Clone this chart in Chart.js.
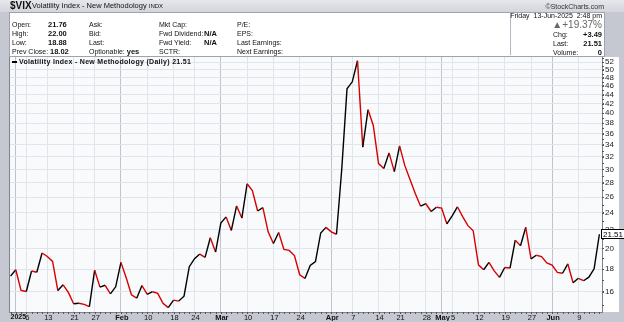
<!DOCTYPE html>
<html>
<head>
<meta charset="UTF-8">
<title>$VIX Volatility Index - New Methodology</title>
<script src="https://cdn.jsdelivr.net/npm/chart.js@4/dist/chart.umd.min.js"></script>
<style>
    body {
        margin: 0;
        width: 624px;
        height: 322px;
        overflow: hidden;
        position: relative;
        background: #c5c8d1;
        font-family: Arial, "Liberation Sans", sans-serif;
        color: #111;
    }
    #chartBox {
        position: absolute;
        left: 0;
        top: 0;
        width: 624px;
        height: 322px;
    }
    .t {
        position: absolute;
        white-space: nowrap;
        font-size: 7px;
        line-height: 8px;
    }
    .b { font-weight: bold; font-size: 7.5px; }
    .r { text-align: right; }
    #topbar {
        position: absolute;
        left: 0; top: 0;
        width: 624px; height: 12px;
        background: linear-gradient(#e6e7ec, #d3d5dc);
    }
    #info {
        position: absolute;
        left: 9px; top: 12px;
        width: 594px; height: 43px;
        background: #fff;
        border: 1px solid #9ea3ad;
    }
    #quote {
        position: absolute;
        left: 510px; top: 12px;
        width: 93px; height: 43px;
        border-left: 1px solid #b4b8c0;
    }
</style>
</head>
<body>
<div id="chartBox"><canvas id="vixChart"></canvas></div>

<!-- ヘッダー -->
<div id="topbar"></div>
<div class="t" style="left:10px;top:1px;font-size:10px;line-height:10px;font-weight:bold;">$VIX</div>
<div class="t" style="left:32px;top:2px;font-size:7.5px;">Volatility Index - New Methodology <span style="font-size:6px;">INDX</span></div>
<div class="t r" style="right:20px;top:3px;color:#333;">&copy;StockCharts.com</div>

<div id="info"></div>
<div id="quote"></div>
<div class="t" style="left:12px;top:21px;">Open:</div>
<div class="t" style="left:12px;top:30px;">High:</div>
<div class="t" style="left:12px;top:39px;">Low:</div>
<div class="t" style="left:12px;top:48px;">Prev Close:</div>
<div class="t b" style="left:48px;top:21px;">21.76</div>
<div class="t b" style="left:48px;top:30px;">22.00</div>
<div class="t b" style="left:48px;top:39px;">18.88</div>
<div class="t b" style="left:50px;top:48px;">18.02</div>

<div class="t" style="left:89px;top:21px;">Ask:</div>
<div class="t" style="left:89px;top:30px;">Bid:</div>
<div class="t" style="left:89px;top:39px;">Last:</div>
<div class="t" style="left:89px;top:48px;">Optionable: <b style="font-size:7.5px;">yes</b></div>

<div class="t" style="left:159px;top:21px;">Mkt Cap:</div>
<div class="t" style="left:159px;top:30px;">Fwd Dividend:</div>
<div class="t" style="left:159px;top:39px;">Fwd Yield:</div>
<div class="t" style="left:159px;top:48px;">SCTR:</div>
<div class="t b" style="left:204px;top:30px;">N/A</div>
<div class="t b" style="left:204px;top:39px;">N/A</div>

<div class="t" style="left:237px;top:21px;">P/E:</div>
<div class="t" style="left:237px;top:30px;">EPS:</div>
<div class="t" style="left:237px;top:39px;">Last Earnings:</div>
<div class="t" style="left:237px;top:48px;">Next Earnings:</div>

<div class="t r" style="right:22px;top:12px;">Friday&nbsp; 13-Jun-2025&nbsp; 2:48 pm</div>
<div class="t r" style="right:22px;top:19px;font-size:10px;line-height:11px;color:#666;">&#9650;+19.37%</div>
<div class="t" style="left:553px;top:31px;">Chg:</div>
<div class="t" style="left:553px;top:40px;">Last:</div>
<div class="t" style="left:553px;top:49px;">Volume:</div>
<div class="t b r" style="right:22px;top:31px;">+3.49</div>
<div class="t b r" style="right:22px;top:40px;">21.51</div>
<div class="t b r" style="right:22px;top:49px;">0</div>

<!-- 凡例 -->
<div class="t" style="left:12px;top:58px;font-weight:bold;letter-spacing:0.3px;"><span style="display:inline-block;width:5px;height:1.5px;background:#000;vertical-align:middle;margin-right:2px;"></span>Volatility Index - New Methodology (Daily) 21.51</div>

<script>
    // 日付(2024-12-31 〜 2025-06-13 の取引日)
    const dates = [
        '12-31',
        '01-02','01-03','01-06','01-07','01-08','01-10','01-13','01-14','01-15','01-16','01-17','01-21','01-22','01-23','01-24','01-27','01-28','01-29','01-30','01-31',
        '02-03','02-04','02-05','02-06','02-07','02-10','02-11','02-12','02-13','02-14','02-18','02-19','02-20','02-21','02-24','02-25','02-26','02-27','02-28',
        '03-03','03-04','03-05','03-06','03-07','03-10','03-11','03-12','03-13','03-14','03-17','03-18','03-19','03-20','03-21','03-24','03-25','03-26','03-27','03-28','03-31',
        '04-01','04-02','04-03','04-04','04-07','04-08','04-09','04-10','04-11','04-14','04-15','04-16','04-17','04-21','04-22','04-23','04-24','04-25','04-28','04-29','04-30',
        '05-01','05-02','05-05','05-06','05-07','05-08','05-09','05-12','05-13','05-14','05-15','05-16','05-19','05-20','05-21','05-22','05-23','05-27','05-28','05-29','05-30',
        '06-02','06-03','06-04','06-05','06-06','06-09','06-10','06-11','06-12','06-13'
    ];

    // 終値
    const closes = [
        17.35,
        17.93, 16.13, 16.04, 17.82, 17.70, 19.54, 19.19, 18.71, 16.12, 16.60, 15.97, 15.06, 15.10, 15.02, 14.85, 17.90, 16.41, 16.56, 15.84, 16.43,
        18.62, 17.21, 15.77, 15.50, 16.54, 15.81, 16.02, 15.89, 15.10, 14.77, 15.35, 15.27, 15.66, 18.21, 18.98, 19.43, 19.10, 21.13, 19.63,
        22.78, 23.51, 21.93, 24.87, 23.37, 27.86, 26.92, 24.23, 24.66, 21.77, 20.51, 21.70, 19.90, 19.80, 19.28, 17.48, 17.15, 18.33, 18.69, 21.65, 22.28,
        21.77, 21.51, 30.02, 45.31, 46.98, 52.33, 33.62, 40.72, 37.56, 30.89, 30.12, 32.64, 29.65, 33.82, 30.57, 28.45, 26.47, 24.84, 25.15, 24.17, 24.70,
        24.60, 22.68, 23.64, 24.76, 23.55, 22.48, 21.90, 18.39, 17.93, 18.62, 17.83, 17.24, 18.14, 18.09, 20.87, 20.28, 22.29, 18.96, 19.31, 19.18, 18.57,
        18.36, 17.69, 17.61, 18.48, 16.77, 17.16, 16.95, 17.26, 18.02, 21.51
    ];

    // 軸目盛
    const yTicks = [16, 18, 20, 22, 24, 26, 28, 30, 32, 34, 36, 38, 40, 42, 44, 46, 48, 50, 52];
    const xTickDates = ['01-02','01-06','01-13','01-21','01-27','02-03','02-10','02-18','02-24','03-03','03-10','03-17','03-24',
                        '04-01','04-07','04-14','04-21','04-28','05-01','05-05','05-12','05-19','05-27','06-02','06-09'];
    const xTickLabels = ['2025','6','13','21','27','Feb','10','18','24','Mar','10','17','24',
                         'Apr','7','14','21','28','May','5','12','19','27','Jun','9'];
    const monthLabels = ['2025', 'Feb', 'Mar', 'Apr', 'May', 'Jun'];

    const xTickIdx = xTickDates.map(d => dates.indexOf(d));
    const labelAt = {};
    xTickIdx.forEach((idx, i) => { labelAt[idx] = xTickLabels[i]; });
    const isMonth = v => monthLabels.includes(labelAt[v]);

    const UP = '#000000';
    const DOWN = '#d80000';

    // 背景・枠・価格タグ
    const framePlugin = {
        id: 'framePlugin',
        beforeDraw(chart) {
            const { ctx, chartArea: a } = chart;
            ctx.save();
            ctx.fillStyle = '#ffffff';
            ctx.fillRect(a.right, a.top, 17, a.bottom - a.top);
            ctx.fillStyle = '#f9fafc';
            ctx.fillRect(a.left, a.top, a.right - a.left, a.bottom - a.top);
            ctx.restore();
        },
        afterDraw(chart) {
            const { ctx, chartArea: a, scales: { x, y } } = chart;
            ctx.save();
            ctx.strokeStyle = '#7d828c';
            ctx.lineWidth = 1;
            ctx.strokeRect(a.left - 0.5, a.top - 0.5, a.right - a.left + 1, a.bottom - a.top + 1);
            // 小目盛
            ctx.strokeStyle = '#555';
            ctx.beginPath();
            dates.forEach((d, i) => {
                const px = Math.round(x.getPixelForValue(i)) + 0.5;
                ctx.moveTo(px, a.bottom);
                ctx.lineTo(px, a.bottom + 2);
            });
            for (let v = 15; v <= 53; v++) {
                const py = Math.round(y.getPixelForValue(v)) + 0.5;
                ctx.moveTo(a.right, py);
                ctx.lineTo(a.right + 2, py);
            }
            ctx.stroke();
            // 年ラベル(左寄せ)
            ctx.fillStyle = '#111';
            ctx.font = 'bold 7px Arial';
            ctx.textBaseline = 'middle';
            ctx.textAlign = 'left';
            ctx.fillText(xTickLabels[0], a.left + 0.5, a.bottom + 5.5);
            // 最終値タグ
            const last = closes[closes.length - 1];
            const py = Math.round(y.getPixelForValue(last));
            ctx.fillStyle = '#ffffff';
            ctx.fillRect(a.right - 1, py - 5, 24, 10);
            ctx.strokeStyle = '#000';
            ctx.strokeRect(a.right - 0.5, py - 4.5, 24, 9);
            ctx.fillStyle = '#000';
            ctx.font = '8px Arial';
            ctx.fillText(last.toFixed(2), a.right + 1, py + 0.5);
            ctx.restore();
        }
    };

    const vixChart = new Chart(
        document.getElementById('vixChart'),
        {
            type: 'line',
            data: {
                datasets: [{
                    label: 'Volatility Index - New Methodology (Daily)',
                    data: closes.map((v, i) => ({ x: i, y: v })),
                    borderWidth: 1.4,
                    borderColor: UP,
                    pointRadius: 0,
                    tension: 0,
                    segment: {
                        borderColor: ctx => ctx.p1.parsed.y < ctx.p0.parsed.y ? DOWN : UP
                    }
                }]
            },
            options: {
                responsive: true,
                maintainAspectRatio: false,
                animation: false,
                layout: { padding: { left: 10, top: 57, right: 4, bottom: 1 } },
                plugins: {
                    legend: { display: false },
                    tooltip: { enabled: false }
                },
                scales: {
                    x: {
                        type: 'linear',
                        min: -0.1,
                        max: 112.5,
                        afterBuildTicks: axis => { axis.ticks = xTickIdx.map(v => ({ value: v })); },
                        afterFit: axis => { axis.height = 9; },
                        border: { display: false },
                        grid: {
                            drawTicks: false,
                            color: ctx => (ctx.tick && isMonth(ctx.tick.value)) ? '#bfc3cc' : '#e1e4ea'
                        },
                        ticks: {
                            autoSkip: false,
                            maxRotation: 0,
                            padding: 1,
                            labelOffset: 1,
                            color: '#111',
                            font: ctx => ({
                                family: 'Arial',
                                size: 7.5,
                                weight: (ctx.tick && isMonth(ctx.tick.value)) ? 'bold' : 'normal'
                            }),
                            // 年ラベルはプラグインで左寄せ描画
                            callback: v => (labelAt[v] && labelAt[v] !== xTickLabels[0]) ? labelAt[v] : ''
                        }
                    },
                    y: {
                        type: 'logarithmic',
                        position: 'right',
                        min: 14.44,
                        max: 53.35,
                        afterBuildTicks: axis => { axis.ticks = yTicks.map(v => ({ value: v })); },
                        afterFit: axis => { axis.width = 18; },
                        border: { display: false },
                        grid: {
                            color: '#e1e4ea',
                            tickLength: 2,
                            tickColor: '#555'
                        },
                        ticks: {
                            padding: 1,
                            color: '#222',
                            font: { family: 'Arial', size: 8 },
                            callback: v => String(v)
                        }
                    }
                }
            },
            plugins: [framePlugin]
        }
    );
</script>
</body>
</html>
